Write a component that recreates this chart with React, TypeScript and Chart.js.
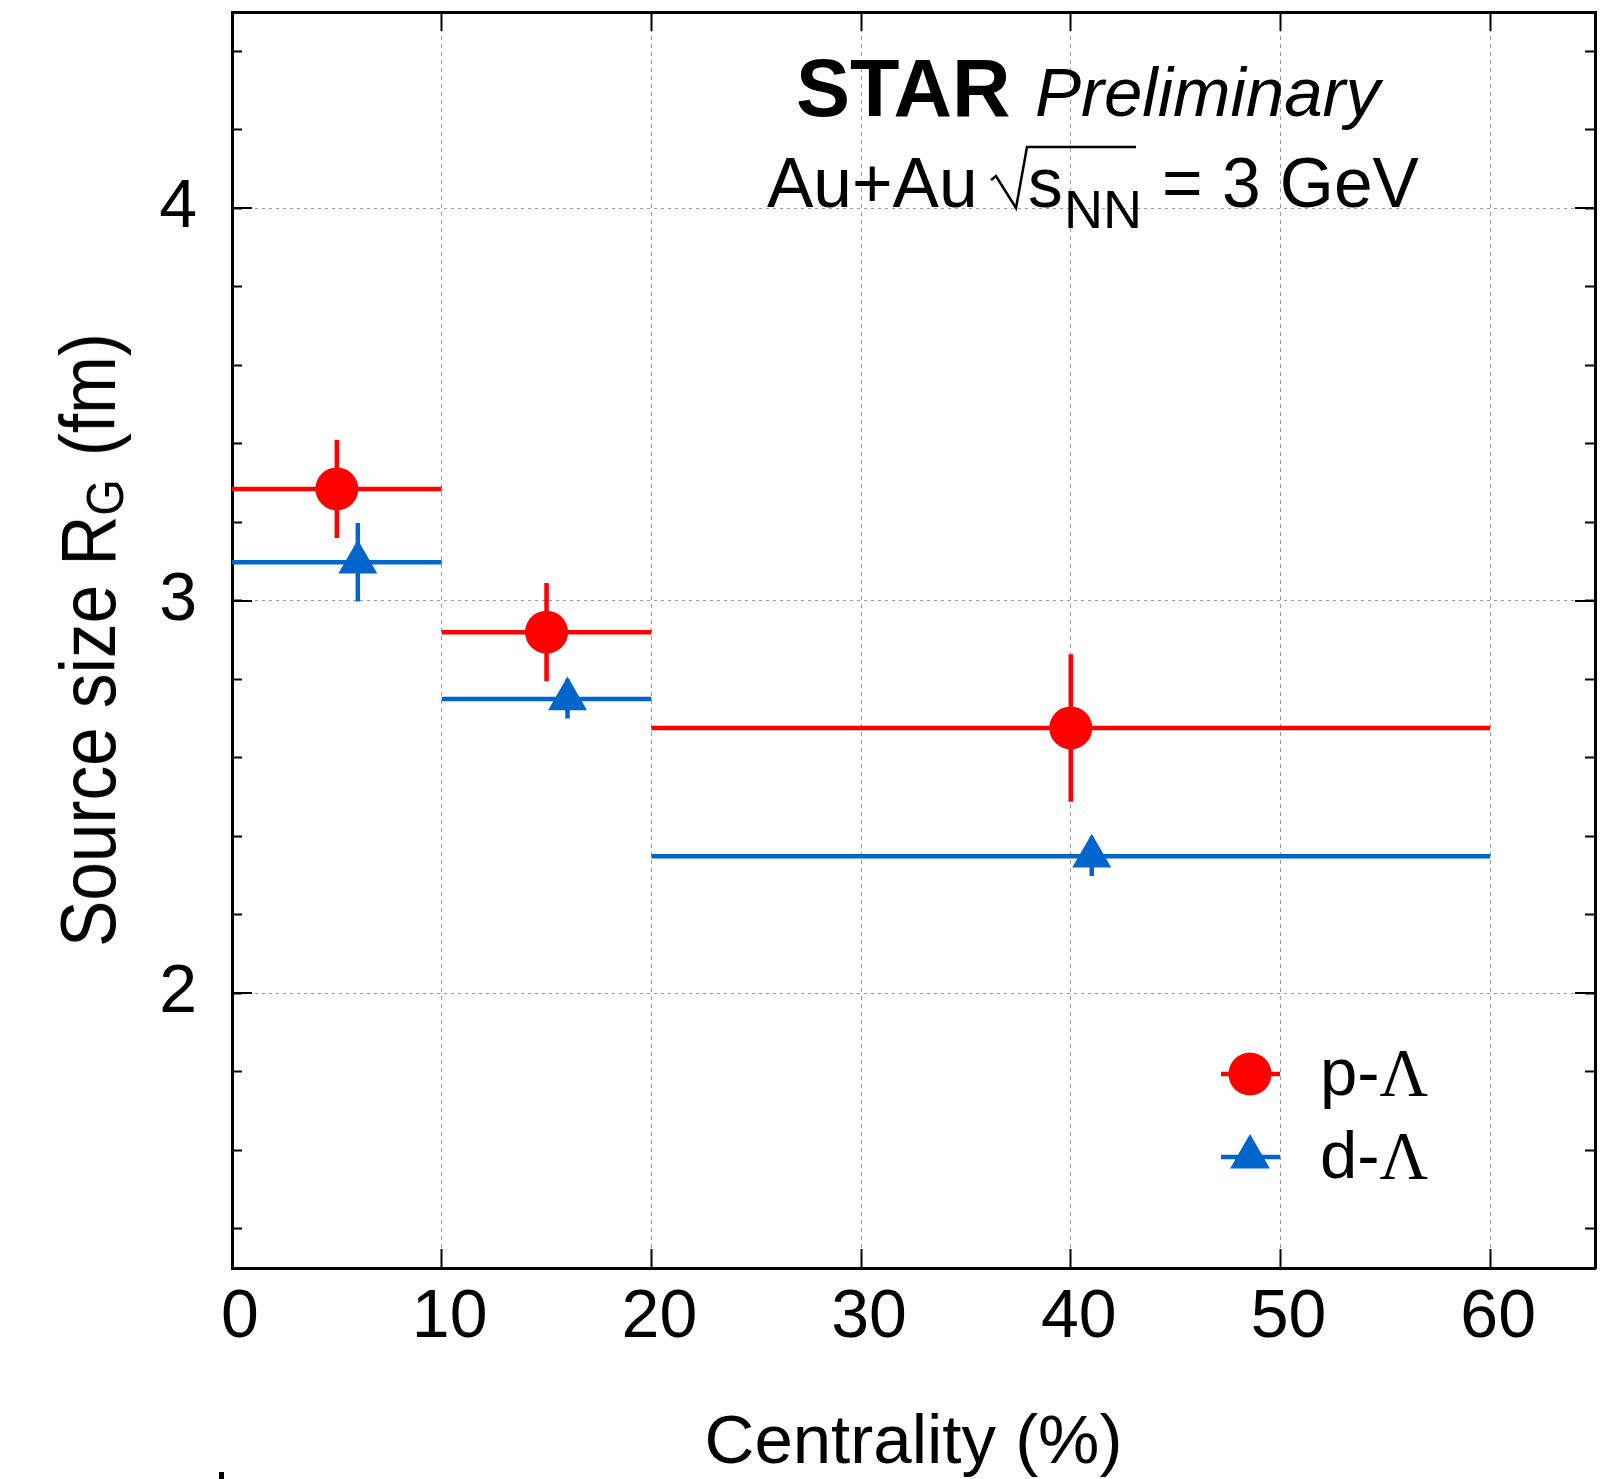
import React, { useEffect, useRef } from "react";
import { Chart, registerables } from "chart.js";

Chart.register(...registerables);

const FONT = '"Liberation Sans", Arial, Helvetica, sans-serif';
const SERIF = '"Liberation Serif", "Times New Roman", "DejaVu Serif", serif';
const RED = "#ff0000";
const BLUE = "#0066cc";
const GRID = "#9a9a9a";

// Centrality bins (%)
const binLow = [0, 10, 20];
const binHigh = [10, 20, 60];

// p-Λ source size R_G (fm)
const pLambdaX = [5, 15, 40];
const pLambdaR = [3.285, 2.92, 2.676];
const pLambdaErr = [0.125, 0.125, 0.188];

// d-Λ source size R_G (fm)
const dLambdaX = [6, 16, 41];
const dLambdaR = [3.098, 2.75, 2.349];
const dLambdaErr = [0.1, 0.05, 0.05];

// Axes
const xLimits = [0, 65];
const yLimits = [1.3, 4.5];
const xTickValues = [0, 10, 20, 30, 40, 50, 60];
const yTickValues = [1.4, 1.6, 1.8, 2.0, 2.2, 2.4, 2.6, 2.8, 3.0, 3.2, 3.4, 3.6, 3.8, 4.0, 4.2, 4.4];
const yLabelValues = [2, 3, 4];

const isLabeled = (v: number) => yLabelValues.some((l) => Math.abs(l - v) < 1e-6);

const markerPoints = (xs: number[], ys: number[]) => xs.map((x, i) => ({ x, y: ys[i] }));

const errorBarPoints = (xs: number[], ys: number[], errs: number[]) => {
  const pts: { x: number; y: number | null }[] = [];
  xs.forEach((x, i) => {
    pts.push({ x: binLow[i], y: ys[i] }, { x: binHigh[i], y: ys[i] }, { x: binHigh[i], y: null });
    pts.push({ x, y: ys[i] - errs[i] }, { x, y: ys[i] + errs[i] }, { x, y: null });
  });
  return pts;
};

const majorTickPlugin = {
  id: "majorTicks",
  afterDraw(chart: any) {
    const { ctx, chartArea, scales } = chart;
    const y = scales.y;
    ctx.save();
    ctx.strokeStyle = "#000";
    ctx.lineWidth = 2;
    yLabelValues.forEach((v) => {
      const py = Math.round(y.getPixelForValue(v));
      ctx.beginPath();
      ctx.moveTo(chartArea.left, py);
      ctx.lineTo(chartArea.left + 20, py);
      ctx.moveTo(chartArea.right, py);
      ctx.lineTo(chartArea.right - 20, py);
      ctx.stroke();
    });
    ctx.restore();
  },
};

const ASC = 0.905;
const DESC = 0.212;
function textAt(left: number, baseline: number, size: number, extra: any = {}) {
  return {
    position: "absolute",
    left,
    top: baseline - size * (ASC + (1 - ASC - DESC) / 2),
    fontSize: size,
    lineHeight: `${size}px`,
    whiteSpace: "nowrap",
    ...extra,
  } as React.CSSProperties;
}

const tickFont = { family: FONT, size: 68, lineHeight: 1 };

export default function App() {
  const canvasRef = useRef<HTMLCanvasElement | null>(null);

  useEffect(() => {
    if (!canvasRef.current) return;
    const setTicksX = (s: any) => {
      s.ticks = xTickValues.map((v) => ({ value: v }));
    };
    const setTicksY = (s: any) => {
      s.ticks = yTickValues.map((v) => ({ value: v }));
    };
    const noPad = (s: any) => {
      s.paddingLeft = 0;
      s.paddingRight = 0;
      s.paddingTop = 0;
      s.paddingBottom = 0;
    };
    const chart = new Chart(canvasRef.current, {
      type: "line",
      data: {
        datasets: [
          {
            label: "p-Λ",
            data: markerPoints(pLambdaX, pLambdaR),
            showLine: false,
            pointStyle: "circle",
            pointRadius: 21.5,
            pointBorderWidth: 0,
            pointBackgroundColor: RED,
            backgroundColor: RED,
            borderColor: RED,
          },
          {
            label: "d-Λ",
            data: markerPoints(dLambdaX, dLambdaR),
            showLine: false,
            pointStyle: "triangle",
            pointRadius: 22.5,
            pointBorderWidth: 0,
            pointBackgroundColor: BLUE,
            backgroundColor: BLUE,
            borderColor: BLUE,
          },
          {
            label: "p-Λ errors",
            data: errorBarPoints(pLambdaX, pLambdaR, pLambdaErr),
            borderColor: RED,
            borderWidth: 4.5,
            pointRadius: 0,
            spanGaps: false,
            fill: false,
            tension: 0,
          },
          {
            label: "d-Λ errors",
            data: errorBarPoints(dLambdaX, dLambdaR, dLambdaErr),
            borderColor: BLUE,
            borderWidth: 4.5,
            pointRadius: 0,
            spanGaps: false,
            fill: false,
            tension: 0,
          },
        ] as any,
      },
      options: {
        responsive: false,
        animation: false,
        events: [],
        layout: { padding: 0, autoPadding: false },
        plugins: { legend: { display: false }, tooltip: { enabled: false } },
        scales: {
          x: {
            type: "linear",
            position: "bottom",
            min: xLimits[0],
            max: xLimits[1],
            afterBuildTicks: setTicksX,
            afterFit: (s: any) => {
              s.height = 211;
              noPad(s);
            },
            ticks: {
              font: tickFont,
              color: "#000",
              padding: 35,
              labelOffset: 8,
              maxRotation: 0,
              minRotation: 0,
              autoSkip: false,
              callback: (v: any) => String(v),
            },
            grid: { color: GRID, lineWidth: 1, tickLength: -19, tickColor: "#000", tickWidth: 2 },
            border: { display: true, color: "#000", width: 3, dash: [4, 4] },
            title: {
              display: true,
              text: "Centrality (%)",
              color: "#000",
              font: { family: FONT, size: 69, lineHeight: 1 },
              padding: { top: 0, bottom: 1 },
            },
          },
          x2: {
            type: "linear",
            position: "top",
            min: xLimits[0],
            max: xLimits[1],
            afterBuildTicks: setTicksX,
            afterFit: (s: any) => {
              s.height = 12;
              noPad(s);
            },
            ticks: { display: false },
            grid: { drawOnChartArea: false, tickLength: -19, tickColor: "#000", tickWidth: 2, color: GRID },
            border: { display: true, color: "#000", width: 3 },
          },
          y: {
            type: "linear",
            position: "left",
            min: yLimits[0],
            max: yLimits[1],
            afterBuildTicks: setTicksY,
            afterFit: (s: any) => {
              s.width = 232;
              noPad(s);
            },
            ticks: {
              font: tickFont,
              color: "#000",
              padding: 45,
              autoSkip: false,
              callback: (v: any) => (isLabeled(Number(v)) ? String(Math.round(Number(v))) : ""),
            },
            grid: {
              color: (c: any) => (c.tick && isLabeled(c.tick.value) ? GRID : "rgba(0,0,0,0)"),
              lineWidth: 1,
              tickLength: -10,
              tickColor: "#000",
              tickWidth: 2,
            },
            border: { display: true, color: "#000", width: 3, dash: [3, 4] },
          },
          y2: {
            type: "linear",
            position: "right",
            min: yLimits[0],
            max: yLimits[1],
            afterBuildTicks: setTicksY,
            afterFit: (s: any) => {
              s.width = 15;
              noPad(s);
            },
            ticks: { display: false },
            grid: { drawOnChartArea: false, tickLength: -10, tickColor: "#000", tickWidth: 2, color: GRID },
            border: { display: true, color: "#000", width: 3 },
          },
        } as any,
      },
      plugins: [majorTickPlugin],
    } as any);
    return () => chart.destroy();
  }, []);

  return (
    <div
      style={{
        position: "absolute",
        left: 0,
        top: 0,
        width: 1610,
        height: 1479,
        overflow: "hidden",
        background: "#fff",
        color: "#000",
        fontFamily: FONT,
      }}
    >
      <canvas ref={canvasRef} width={1610} height={1479} style={{ display: "block" }} />

      {/* STAR Preliminary */}
      <div style={textAt(796, 117, 81, { fontWeight: "bold" })}>STAR</div>
      <div style={textAt(1035, 116, 69, { fontStyle: "italic" })}>Preliminary</div>

      {/* Au+Au √sNN = 3 GeV */}
      <div style={textAt(767, 208, 69.5)}>Au+Au</div>
      <svg
        style={{ position: "absolute", left: 0, top: 0, overflow: "visible" }}
        width={1}
        height={1}
      >
        <polyline
          points="991,180 996,176 1016,208 1027,147 1136,147"
          fill="none"
          stroke="#000"
          strokeWidth={2.5}
          strokeLinejoin="miter"
        />
      </svg>
      <div style={textAt(1028, 208, 69.5)}>s</div>
      <div style={textAt(1064, 228, 54)}>NN</div>
      <div style={textAt(1162, 208, 69.5)}>= 3 GeV</div>

      {/* Y axis title */}
      <div
        style={{
          position: "absolute",
          left: 93,
          top: 640,
          fontSize: 77,
          lineHeight: "77px",
          whiteSpace: "nowrap",
          transform: "translate(-50%, -50%) rotate(-90deg) scaleX(0.9)",
        }}
      >
        Source size R<span style={{ fontSize: 52, position: "relative", top: 8 }}>G</span>
        <span style={{ marginLeft: 4 }}> (fm)</span>
      </div>

      {/* Legend */}
      <svg
        style={{ position: "absolute", left: 1215, top: 1045 }}
        width={70}
        height={130}
        viewBox="0 0 70 130"
      >
        <line x1={6} y1={29} x2={65} y2={29} stroke={RED} strokeWidth={4.5} />
        <circle cx={35} cy={29} r={21.5} fill={RED} />
        <line x1={6} y1={112} x2={65} y2={112} stroke={BLUE} strokeWidth={4.5} />
        <polygon points="35,89 15.08,123.5 54.92,123.5" fill={BLUE} />
      </svg>
      <div style={textAt(1320, 1095, 67)}>
        p-<span style={{ fontFamily: SERIF }}>Λ</span>
      </div>
      <div style={textAt(1320, 1178, 67)}>
        d-<span style={{ fontFamily: SERIF }}>Λ</span>
      </div>

      <div style={{ position: "absolute", left: 219, top: 1472, width: 5, height: 7, background: "#000" }} />
    </div>
  );
}
